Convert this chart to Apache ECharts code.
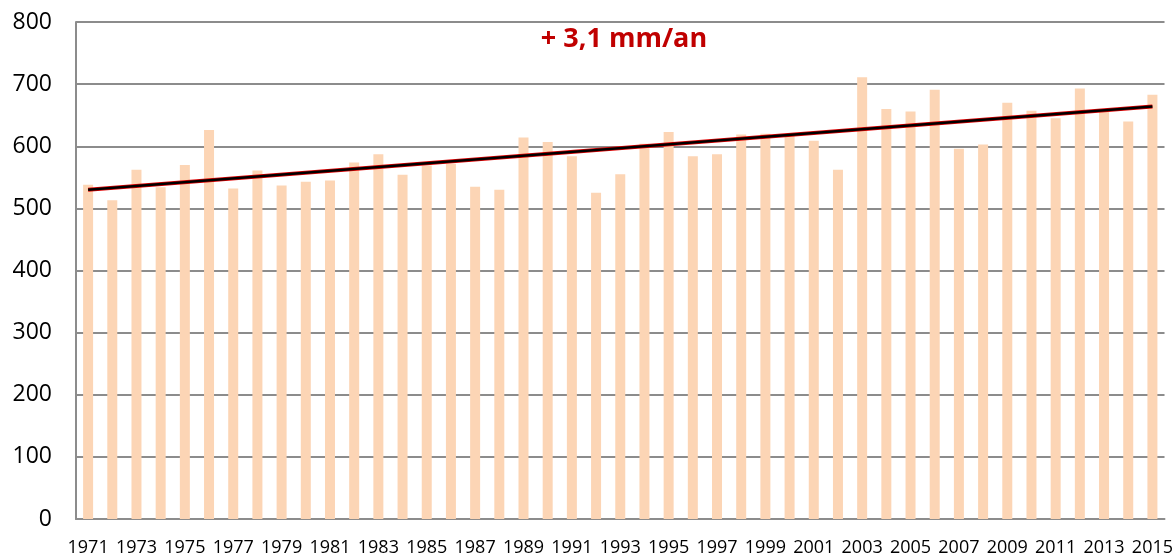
<!DOCTYPE html>
<html>
<head>
<meta charset="utf-8">
<script src="https://cdn.jsdelivr.net/npm/echarts@6/dist/echarts.min.js"></script>
<style>
  html, body { margin: 0; padding: 0; background: #fff; }
  #chart { width: 1176px; height: 557px; }
</style>
</head>
<body>
<div id="chart"></div>
<script>
// années et cumuls annuels (mm)
const years = [];
for (let y = 1971; y <= 2015; y++) years.push(String(y));

const rainfall = [
  538, 513, 562, 534, 570, 626, 532, 561, 537, 543,
  545, 574, 587, 554, 569, 572, 535, 530, 614, 607,
  584, 525, 555, 604, 623, 584, 587, 619, 620, 617,
  609, 562, 711, 660, 656, 691, 596, 603, 670, 657,
  645, 693, 655, 640, 683
];

// tendance : valeurs lues aux deux extrémités
const trendYears = ['1971', '2015'];
const trendValues = [530, 664];

const yTicks = { min: 0, max: 800, interval: 100 };

const chart = echarts.init(document.getElementById('chart'));
const trendData = trendYears.map((y, i) => [y, trendValues[i]]);

const option = {
  animation: false,
  title: {
    text: '+ 3,1 mm/an',
    left: 619,
    top: 21,
    textAlign: 'center',
    textStyle: {
      color: '#C00000',
      fontFamily: 'Open Sans',
      fontWeight: 'bold',
      fontSize: 27
    }
  },
  grid: {
    left: 76,
    right: 11,
    top: 22,
    bottom: 36
  },
  xAxis: {
    type: 'category',
    data: years,
    axisTick: { show: false },
    axisLine: { lineStyle: { color: '#8c8c8c', width: 2 } },
    axisLabel: {
      interval: 1,
      margin: 20,
      color: '#000',
      fontFamily: 'Open Sans',
      fontSize: 18
    }
  },
  yAxis: {
    type: 'value',
    min: yTicks.min,
    max: yTicks.max,
    interval: yTicks.interval,
    axisLine: { show: true, lineStyle: { color: '#8c8c8c', width: 2 } },
    axisTick: { show: false },
    splitLine: { lineStyle: { color: '#8c8c8c', width: 2 } },
    axisLabel: {
      margin: 24,
      color: '#000',
      fontFamily: 'Open Sans',
      fontSize: 23
    }
  },
  series: [
    {
      type: 'bar',
      data: rainfall,
      barWidth: 10,
      itemStyle: { color: '#FCD5B5' }
    },
    {
      type: 'line',
      data: trendData,
      symbol: 'none',
      lineStyle: { color: '#e00000', width: 4 },
      z: 3
    },
    {
      type: 'line',
      data: trendData,
      symbol: 'none',
      lineStyle: { color: '#000', width: 2.5 },
      z: 4
    }
  ]
};

chart.setOption(option);
</script>
</body>
</html>
